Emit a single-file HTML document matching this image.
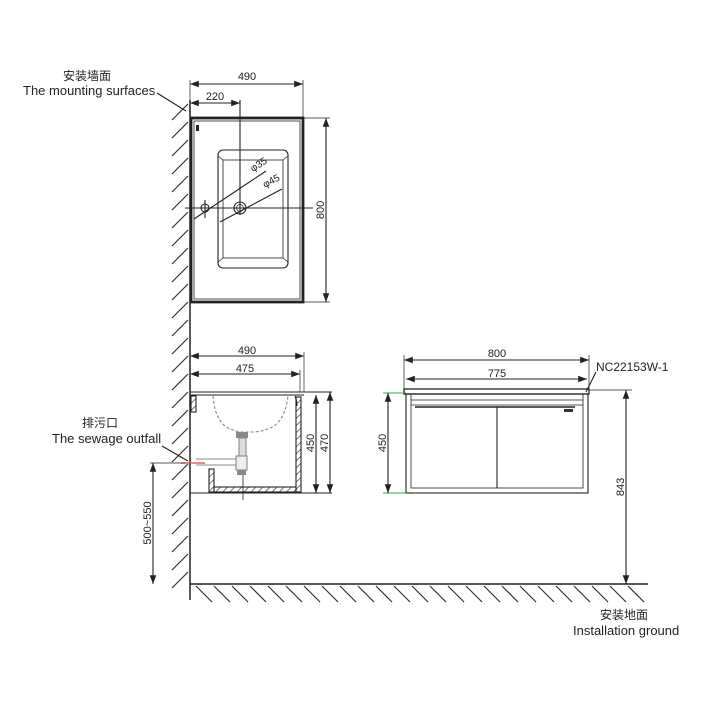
<!DOCTYPE html>
<html><head><meta charset="utf-8"><style>
html,body{margin:0;padding:0;background:#fff;}
svg{display:block;}
text{font-family:"Liberation Sans","Noto Sans CJK SC",sans-serif;fill:#222;}
</style></head><body>
<svg width="709" height="709" viewBox="0 0 709 709" xmlns="http://www.w3.org/2000/svg">
<defs>
<pattern id="h" width="5" height="5" patternUnits="userSpaceOnUse" patternTransform="rotate(45)">
<line x1="0" y1="0" x2="0" y2="5" stroke="#333" stroke-width="1.3"/></pattern>
<marker id="a" markerWidth="8" markerHeight="6" refX="8" refY="3" orient="auto-start-reverse"><path d="M0,0L8,3L0,6z" fill="#222"/></marker>
</defs>
<g stroke="#222" fill="none" stroke-width="1.1">
<!-- wall -->
<line x1="190" y1="100" x2="190" y2="600" stroke-width="1.5"/>
<g stroke="#333" stroke-width="1.2">
<path d="M172,120l16,-16M172,138l16,-16M172,156l16,-16M172,174l16,-16M172,192l16,-16M172,210l16,-16M172,228l16,-16M172,246l16,-16M172,264l16,-16M172,282l16,-16M172,300l16,-16M172,318l16,-16M172,336l16,-16M172,354l16,-16M172,372l16,-16M172,390l16,-16M172,408l16,-16M172,426l16,-16M172,444l16,-16M172,462l16,-16M172,480l16,-16M172,498l16,-16M172,516l16,-16M172,534l16,-16M172,552l16,-16M172,570l16,-16M172,588l16,-16"/>
</g>
<!-- ground -->
<line x1="190" y1="584" x2="648" y2="584" stroke-width="1.5"/>
<path stroke="#333" stroke-width="1.2" d="M196,586l16,16M214,586l16,16M232,586l16,16M250,586l16,16M268,586l16,16M286,586l16,16M304,586l16,16M322,586l16,16M340,586l16,16M358,586l16,16M376,586l16,16M394,586l16,16M412,586l16,16M430,586l16,16M448,586l16,16M466,586l16,16M484,586l16,16M502,586l16,16M520,586l16,16M538,586l16,16M556,586l16,16M574,586l16,16M592,586l16,16M610,586l16,16M628,586l16,16"/>

<!-- top view -->
<rect x="191" y="118" width="112" height="184" stroke-width="2.8"/>
<rect x="194" y="121" width="106" height="178" stroke-width="0.8"/>
<rect x="196" y="125" width="3" height="6" fill="#222" stroke="none"/>
<rect x="218" y="150" width="70" height="118" rx="5"/>
<rect x="223" y="160" width="60" height="98" stroke-width="0.8"/>
<path d="M218,156l5,4M288,156l-5,4M218,262l5,-4M288,262l-5,-4" stroke-width="0.8"/>
<line x1="185" y1="208" x2="313" y2="208"/>
<line x1="240" y1="100" x2="240" y2="215"/>
<circle cx="240" cy="208" r="6"/><circle cx="240" cy="208" r="3.5" stroke-width="0.7"/>
<circle cx="205" cy="208" r="4"/><line x1="205" y1="200" x2="205" y2="218"/>
<line x1="194" y1="219" x2="266" y2="171"/>
<line x1="220" y1="222" x2="282" y2="189"/>
<line x1="190" y1="80" x2="190" y2="118" stroke-width="0.7"/>
<line x1="303" y1="80" x2="303" y2="118" stroke-width="0.7"/>
<line x1="190" y1="84" x2="303" y2="84" marker-start="url(#a)" marker-end="url(#a)"/>
<line x1="190" y1="103" x2="240" y2="103" marker-start="url(#a)" marker-end="url(#a)"/>
<line x1="303" y1="118" x2="330" y2="118" stroke-width="0.7"/>
<line x1="303" y1="302" x2="330" y2="302" stroke-width="0.7"/>
<line x1="326" y1="118" x2="326" y2="302" marker-start="url(#a)" marker-end="url(#a)"/>
<line x1="186" y1="111" x2="157" y2="93"/>

<!-- side view -->
<line x1="190" y1="352" x2="190" y2="392" stroke-width="0.7"/>
<line x1="304" y1="352" x2="304" y2="392" stroke-width="0.7"/>
<line x1="300" y1="370" x2="300" y2="392" stroke-width="0.7"/>
<line x1="190" y1="356" x2="304" y2="356" marker-start="url(#a)" marker-end="url(#a)"/>
<line x1="190" y1="374" x2="300" y2="374" marker-start="url(#a)" marker-end="url(#a)"/>
<line x1="190" y1="392" x2="332" y2="392"/>
<line x1="190" y1="395" x2="304" y2="395"/>
<rect x="191" y="396" width="5" height="16" fill="url(#h)"/>
<rect x="296" y="397" width="5" height="95" fill="url(#h)"/>
<path d="M295,396q2,5 2,10" />
<rect x="209" y="469" width="5" height="23" fill="url(#h)"/>
<rect x="214" y="487" width="82" height="5" fill="url(#h)"/>
<line x1="190" y1="493" x2="332" y2="493"/>
<path d="M213,396 q2,25 15,32 q10,4 12,4 h10 q12,0 20,-4 q15,-6 18,-32" stroke="#888" stroke-dasharray="3,2"/>
<rect x="236" y="432" width="12" height="6" fill="#888" stroke="none"/>
<rect x="239" y="438" width="7" height="18" stroke="#888" fill="#ddd"/>
<rect x="236" y="456" width="11" height="14" stroke="#888" fill="#eee"/>
<rect x="237" y="470" width="9" height="5" fill="#888" stroke="none"/>
<line x1="196" y1="459" x2="236" y2="459" stroke="#888"/>
<line x1="196" y1="465" x2="236" y2="465" stroke="#888"/>
<line x1="181" y1="463" x2="205" y2="463" stroke="#d44" stroke-width="1.2"/>
<line x1="243" y1="475" x2="243" y2="500" stroke-width="0.8"/>
<line x1="316" y1="395" x2="316" y2="493" marker-start="url(#a)" marker-end="url(#a)"/>
<line x1="330" y1="392" x2="330" y2="493" marker-start="url(#a)" marker-end="url(#a)"/>
<line x1="150" y1="463" x2="185" y2="463" stroke-width="0.7"/>
<line x1="153" y1="463" x2="153" y2="584" marker-start="url(#a)" marker-end="url(#a)"/>
<line x1="162" y1="446" x2="188" y2="461"/>

<!-- front view -->
<line x1="404" y1="355" x2="404" y2="390" stroke-width="0.7"/>
<line x1="589" y1="355" x2="589" y2="390" stroke-width="0.7"/>
<line x1="404" y1="360" x2="589" y2="360" marker-start="url(#a)" marker-end="url(#a)"/>
<line x1="406" y1="379" x2="587" y2="379" marker-start="url(#a)" marker-end="url(#a)"/>
<rect x="404" y="389" width="185" height="5" stroke-width="1.3"/>
<rect x="406" y="394" width="182" height="99"/>
<rect x="411" y="394" width="172" height="94" stroke-width="0.8"/>
<line x1="411" y1="400" x2="583" y2="400" stroke-width="0.8"/>
<line x1="411" y1="405" x2="583" y2="405" stroke-width="0.8"/>
<line x1="415" y1="407" x2="575" y2="407" stroke-width="1.5"/>
<line x1="497" y1="407" x2="497" y2="488"/>
<rect x="564" y="409" width="9" height="3" fill="#333" stroke="none"/>
<line x1="383" y1="393" x2="406" y2="393" stroke="#3a3"/>
<line x1="383" y1="493" x2="406" y2="493" stroke="#3a3"/>
<line x1="388" y1="393" x2="388" y2="493" marker-start="url(#a)" marker-end="url(#a)"/>
<line x1="589" y1="390" x2="632" y2="390" stroke-width="0.7"/>
<line x1="626" y1="390" x2="626" y2="584" marker-start="url(#a)" marker-end="url(#a)"/>
<line x1="586" y1="392" x2="596" y2="372"/>
</g>
<g font-size="11">
<text x="247" y="80" text-anchor="middle">490</text>
<text x="215" y="100" text-anchor="middle">220</text>
<text transform="translate(324,210) rotate(-90)" text-anchor="middle">800</text>
<text transform="translate(253,172) rotate(-33)" font-size="10">φ35</text>
<text transform="translate(265,188) rotate(-28)" font-size="10">φ45</text>
<text x="247" y="354" text-anchor="middle">490</text>
<text x="245" y="372" text-anchor="middle">475</text>
<text transform="translate(314,443) rotate(-90)" text-anchor="middle">450</text>
<text transform="translate(328,443) rotate(-90)" text-anchor="middle">470</text>
<text transform="translate(151,523) rotate(-90)" text-anchor="middle">500~550</text>
<text x="497" y="357" text-anchor="middle">800</text>
<text x="497" y="377" text-anchor="middle">775</text>
<text transform="translate(386,443) rotate(-90)" text-anchor="middle">450</text>
<text transform="translate(624,487) rotate(-90)" text-anchor="middle">843</text>
<text x="596" y="371" font-family="Liberation Serif, serif" font-size="12">NC22153W-1</text>
<text x="63" y="80" font-size="12">安装墙面</text>
<text x="23" y="95" font-size="13">The mounting surfaces</text>
<text x="82" y="427" font-size="12">排污口</text>
<text x="52" y="443" font-size="13">The sewage outfall</text>
<text x="600" y="619" font-size="12">安装地面</text>
<text x="573" y="635" font-size="13">Installation ground</text>
</g>
</svg>
</body></html>
